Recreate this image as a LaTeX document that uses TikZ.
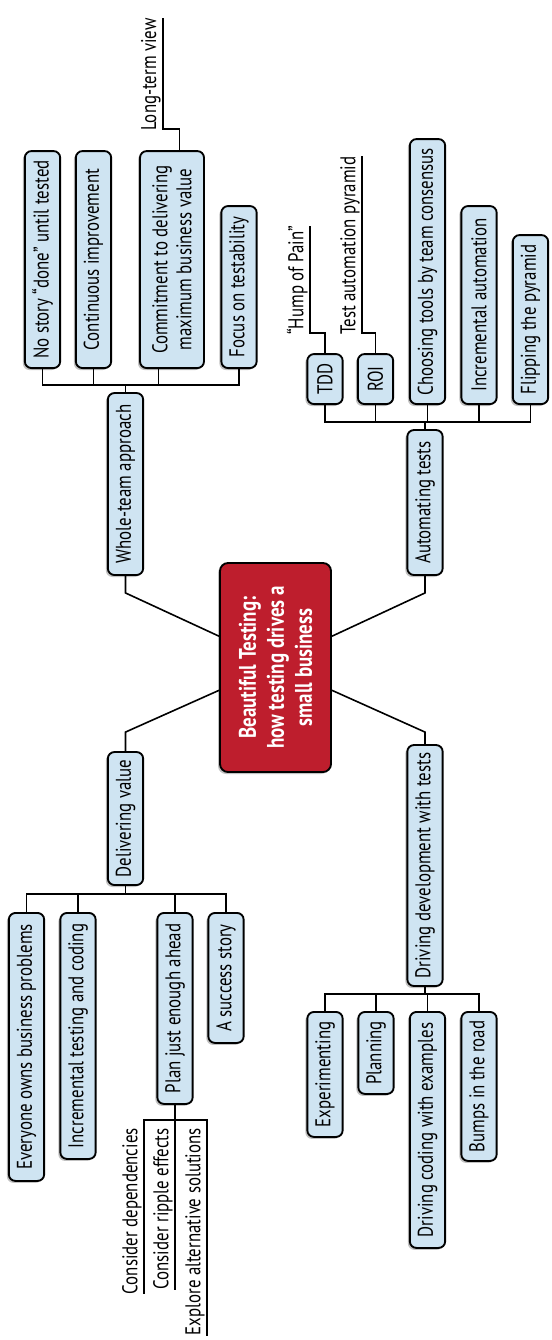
\documentclass[tikz,border=0pt]{standalone}
\usepackage{fontspec}
\setmainfont{PT Sans}[FakeStretch=0.79]
\usepackage{tikz}
\usetikzlibrary{positioning}
\usetikzlibrary{shapes.geometric, shadows}
\definecolor{topicblue}{RGB}{207,228,242}
\definecolor{centrered}{RGB}{190,30,45}
\tikzstyle{topic} = [rectangle, rounded corners=5pt, rotate=90, draw=black, line width=1.4pt, fill=topicblue, minimum height=26.5pt, inner xsep=2pt, inner ysep=1pt, text centered, font=\fontsize{16}{18}\selectfont, drop shadow={shadow xshift=-1.5pt, shadow yshift=-1.5pt, fill=black!30, opacity=0.8}]
\tikzstyle{central} = [rectangle, rounded corners=6pt, rotate=90, draw=black, line width=1.4pt, fill=centrered, text=white, minimum width=156.75pt, minimum height=83.25pt, text centered, align=center, font=\bfseries\fontsize{18}{21}\selectfont, drop shadow={shadow xshift=-1.5pt, shadow yshift=-1.5pt, fill=black!30, opacity=0.8}]
\tikzstyle{note} = [rotate=90, inner xsep=0pt, inner ysep=1.5pt, font=\fontsize{16}{18}\selectfont]
\tikzstyle{link} = [black, line width=1.2pt]

\begin{document}
\begin{tikzpicture}[x=0.75pt, y=-0.75pt]
	\useasboundingbox (0,0) rectangle (551,1340);
	\node (center) at (275.5,667.5) [central] {Beautiful Testing:\\how testing drives a\\small business};

    \node (whole) at (125.5,484) [topic, minimum width=136.5pt] {Whole-team approach};
    \node (autom) at (425,502.5) [topic, minimum width=108.75pt] {Automating tests};
    \node (deliv) at (125.5,818.5) [topic, minimum width=99.75pt] {Delivering value};
    \node (driving) at (425,865.5) [topic, minimum width=180.75pt] {Driving development with tests};
    \draw [link] (whole.west) -- ++(0,17) -- (center.61);
    \draw [link] (autom.west) -- ++(0,17) -- (center.-61);
    \draw [link] (deliv.east) -- ++(0,-19) -- (center.112);
    \draw [link] (driving.east) -- ++(0,-12) -- (center.248);

    \node (nostory) at (42.5,369) [topic, anchor=west, minimum width=162.75pt] {No story “done” until tested};
    \node (contimp) at (93.5,369) [topic, anchor=west, minimum width=162.75pt] {Continuous improvement};
    \node (commit) at (172,369) [topic, anchor=west, minimum width=162.75pt, minimum height=48pt, align=center] {Commitment to delivering\\maximum business value};
    \node (focus) at (239,369) [topic, anchor=west, minimum width=121.5pt] {Focus on testability};
    \draw [link] (whole.east) -- ++(0,-7) -| (nostory.west);
    \draw [link] (whole.east) -- ++(0,-7) -| (contimp.west);
    \draw [link] (whole.east) -- ++(0,-7) -| (commit.173);
    \draw [link] (whole.east) -- ++(0,-7) -| (focus.west);

    \node (longterm) at (163,131) [note, anchor=south west] {Long-term view};
    \draw [link] (commit.-4) -- ++(0,-21) -| (longterm.south east);

    \node (tdd) at (325,405) [topic, anchor=west, minimum width=37.5pt] {TDD};
    \node (roi) at (375.5,405) [topic, anchor=west, minimum width=37.5pt] {ROI};
    \node (choosing) at (427.5,405) [topic, anchor=west, minimum width=198.75pt] {Choosing tools by team consensus};
    \node (incauto) at (479,405) [topic, anchor=west, minimum width=148.5pt] {Incremental automation};
    \node (flipping) at (530.5,405) [topic, anchor=west, minimum width=126.75pt] {Flipping the pyramid};
    \draw [link] (autom.east) -- ++(0,-7) -| (tdd.west);
    \draw [link] (autom.east) -- ++(0,-7) -| (roi.west);
    \draw [link] (autom.east) -- ++(0,-7) -| (choosing.west);
    \draw [link] (autom.east) -- ++(0,-7) -| (incauto.west);
    \draw [link] (autom.east) -- ++(0,-7) -| (flipping.west);

    \node (hump) at (310,335) [note, anchor=south west] {“Hump of Pain”};
    \node (pyramid) at (362,335) [note, anchor=south west] {Test automation pyramid};
    \draw [link] (tdd.east) -- ++(0,-20) -| (hump.south east);
    \draw [link] (roi.east) -- ++(0,-20) -| (pyramid.south east);

    \node (everyone) at (26.5,912) [topic, anchor=east, minimum width=201pt] {Everyone owns business problems};
    \node (inctest) at (78,912) [topic, anchor=east, minimum width=184.5pt] {Incremental testing and coding};
    \node (plan) at (175,912) [topic, anchor=east, minimum width=143.25pt] {Plan just enough ahead};
    \node (success) at (226,912) [topic, anchor=east, minimum width=97.5pt] {A success story};
    \draw [link] (deliv.west) -- ++(0,8) -| (everyone.east);
    \draw [link] (deliv.west) -- ++(0,8) -| (inctest.east);
    \draw [link] (deliv.west) -- ++(0,8) -| (plan.east);
    \draw [link] (deliv.west) -- ++(0,8) -| (success.east);

    \node (depend) at (144,1128) [note, anchor=south east] {Consider dependencies};
    \node (ripple) at (175,1128) [note, anchor=south east] {Consider ripple effects};
    \node (explore) at (207,1128) [note, anchor=south east] {Explore alternative solutions};
    \draw [link] (plan.west) -- ++(0,15) -| (depend.south west);
    \draw [link] (plan.west) -- ++(0,15) -| (ripple.south west);
    \draw [link] (plan.west) -- ++(0,15) -| (explore.south west);

    \node (experim) at (325,1011) [topic, anchor=east, minimum width=93.75pt] {Experimenting};
    \node (planning) at (376,1011) [topic, anchor=east, minimum width=61.5pt] {Planning};
    \node (drivcode) at (427.5,1011) [topic, anchor=east, minimum width=177pt] {Driving coding with examples};
    \node (bumps) at (479,1011) [topic, anchor=east, minimum width=111.75pt] {Bumps in the road};
    \draw [link] (driving.west) -- ++(0,7) -| (experim.east);
    \draw [link] (driving.west) -- ++(0,7) -| (planning.east);
    \draw [link] (driving.west) -- ++(0,7) -| (drivcode.east);
    \draw [link] (driving.west) -- ++(0,7) -| (bumps.east);

\end{tikzpicture}
\end{document}
